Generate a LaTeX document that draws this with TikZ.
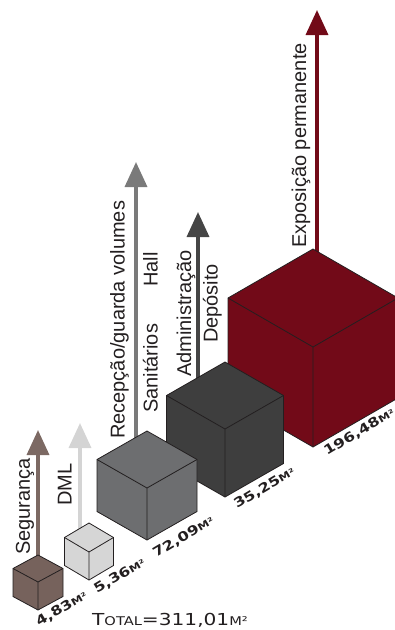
\documentclass[tikz,border=0pt]{standalone}
\usepackage{fontspec}
\setmainfont{Liberation Sans}
\newfontfamily\areafont{DejaVu Sans}[FakeStretch=1.25]
\newfontfamily\totfont{DejaVu Sans}[FakeStretch=1.22]
\usetikzlibrary{arrows.meta}
\definecolor{cbrown}{HTML}{76625C}
\definecolor{clight}{HTML}{D6D6D6}
\definecolor{cgrey}{HTML}{6D6E70}
\definecolor{cdark}{HTML}{3E3E3E}
\definecolor{cmaroon}{HTML}{720A18}
\definecolor{ctext}{HTML}{231F20}
\definecolor{abrown}{HTML}{7C6963}
\definecolor{alight}{HTML}{D4D4D4}
\definecolor{agrey}{HTML}{7A7A7A}
\definecolor{adark}{HTML}{454545}
\tikzset{
  cubeedge/.style={draw=ctext, line width=0.8pt, line join=miter},
  arr/.style={line width=3.5pt, -{Triangle[length=25pt,width=22pt]}},
  vlab/.style={rotate=90, anchor=base west, inner sep=0pt, text=ctext,
    font=\fontsize{20}{24}\selectfont},
  alab/.style={rotate=31, anchor=base west, inner sep=0pt, text=ctext,
    font=\areafont\bfseries\fontsize{13}{14}\selectfont},
  tlab/.style={anchor=base west, inner sep=0pt, text=ctext,
    font=\totfont\fontsize{16.5}{18}\selectfont}
}
\newcommand\smm[1]{{\fontsize{9.5}{10}\selectfont #1}}
% x y halfwidth halfheight vertical colour  (x,y = front top vertex)
\newcommand\drawisocube[6]{%
  \fill[#6] (#1-#3,#2-#4) -- (#1,#2-2*#4) -- (#1+#3,#2-#4)
    -- (#1+#3,#2-#4+#5) -- (#1,#2+#5) -- (#1-#3,#2-#4+#5) -- cycle;
  \draw[cubeedge] (#1-#3,#2-#4) -- (#1,#2-2*#4) -- (#1+#3,#2-#4)
    -- (#1+#3,#2-#4+#5) -- (#1,#2+#5) -- (#1-#3,#2-#4+#5) -- cycle;
  \draw[cubeedge] (#1-#3,#2-#4) -- (#1,#2) -- (#1+#3,#2-#4) (#1,#2) -- (#1,#2+#5);
}
\begin{document}
\begin{tikzpicture}[x=1pt,y=-1pt]
\useasboundingbox (0,0) rectangle (395,630);
% arrow coordinates
\coordinate (s1) at (38,562);  \coordinate (t1) at (38,430);
\coordinate (s2) at (80,532);  \coordinate (t2) at (80,423);
\coordinate (s3) at (136,442); \coordinate (t3) at (136,162);
\coordinate (s4) at (198,382); \coordinate (t4) at (198,212);
\coordinate (s5) at (317,258); \coordinate (t5) at (317,10);
\draw[arr, abrown] (s1) -- (t1);
\draw[arr, alight] (s2) -- (t2);
\draw[arr, agrey] (s3) -- (t3);
\draw[arr, adark] (s4) -- (t4);
\draw[arr, cmaroon] (s5) -- (t5);
% cubes, back to front
\drawisocube{313}{347}{85}{49}{100}{cmaroon}
\drawisocube{225}{429}{58.5}{33.5}{68}{cdark}
\drawisocube{147}{488}{50}{28.5}{52}{cgrey}
\drawisocube{89}{552}{24.5}{14.5}{28}{clight}
\drawisocube{38}{582}{25}{13.5}{28}{cbrown}
% vertical labels
\node[vlab] (lseg) at (30,555) {Segurança};
\node[vlab] (ldml) at (71.5,506) {DML};
\node[vlab] (lrec) at (124.5,439) {Recepção/guarda volumes};
\node[vlab] (lsan) at (157.5,413) {Sanitários};
\node[vlab] (lhall) at (157.5,287) {Hall};
\node[vlab] (ladm) at (191,377) {Administração};
\node[vlab] (ldep) at (217.5,343) {Depósito};
\node[vlab] (lexp) at (306,248) {Exposição permanente};
% area labels
\node[alab] (a1) at (39,627) {4,83\smm{M²}};
\node[alab] (a2) at (97,594) {5,36\smm{M²}};
\node[alab] (a3) at (156,558) {72,09\smm{M²}};
\node[alab] (a4) at (237,509) {35,25\smm{M²}};
\node[alab] (a5) at (327,456) {196,48\smm{M²}};
\node[tlab] (tot) at (92,625) {T{\fontsize{12}{12}\selectfont OTAL}=311,01{\fontsize{12}{12}\selectfont M²}};
\end{tikzpicture}
\end{document}
